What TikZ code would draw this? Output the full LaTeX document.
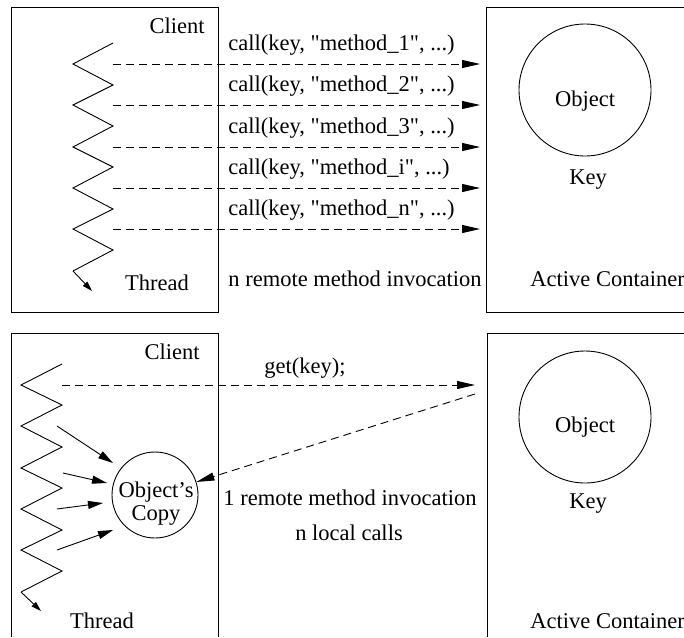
\documentclass[tikz,border=0pt]{standalone}
\usepackage{fontspec}
\setmainfont{Liberation Serif}[Ligatures=TeXOff]
\usetikzlibrary{arrows.meta}
\begin{document}
\begin{tikzpicture}[x=1pt,y=-1pt,line width=0.9pt,
  lbl/.style={font=\fontsize{22.5}{23}\selectfont,inner sep=0pt},
  dsh/.style={dash pattern=on 8pt off 5pt},
  bigtip/.style={-{Triangle[length=18pt,width=8pt]}},
  midtip/.style={-{Triangle[length=15pt,width=8pt]}},
  smalltip/.style={-{Triangle[length=10pt,width=6pt]}},
  ring/.style={circle,draw,inner sep=0pt}]
\useasboundingbox (0,0) rectangle (684,637);

% ---------- top panel ----------
\draw (11,7) rectangle (218,312);
\draw (684,7) -- (486,7) -- (486,312) -- (684,312);
\node[lbl,anchor=base] (client1) at (177,33) {Client};
\node[lbl,anchor=base] (thread1) at (157,290) {Thread};
\node[ring,minimum size=132pt] (obj1) at (585,90) {};
\node[lbl,anchor=base] (objt1) at (585,106) {Object};
\node[lbl,anchor=base] (key1) at (588,184) {Key};
\node[lbl,anchor=base west] (ac1) at (530,286) {Active Container};
\node[lbl,anchor=base west] (nrem) at (228,286) {n remote method invocation};

\draw (113,43) -- (73,64) -- (113,85) -- (73,105) -- (113,126) -- (73,147)
  -- (113,167) -- (73,188) -- (113,209) -- (73,229) -- (113,250) -- (73,271) coordinate (z1end);
\coordinate (z1tip) at (92,291);
\draw[smalltip] (z1end) -- (z1tip);

\foreach \i/\y/\m in {1/64/1,2/105/2,3/147/3,4/188/i,5/229/n}{
  \coordinate (s\i) at (113,\y);
  \coordinate (e\i) at (480,\y);
  \draw[dsh,bigtip] (s\i) -- (e\i);
  \node[lbl,anchor=base west] (call\i) at (228,\y-13.5) {call(key, "method\_\m", ...)};
}

% ---------- bottom panel ----------
\draw (11,637) -- (11,333) -- (218,333) -- (218,637);
\draw (684,333) -- (487,333) -- (487,637);
\node[lbl,anchor=base] (client2) at (172,359) {Client};
\node[lbl,anchor=base] (thread2) at (102,628) {Thread};
\node[ring,minimum size=132pt] (obj2) at (585,417) {};
\node[lbl,anchor=base] (objt2) at (585,432) {Object};
\node[lbl,anchor=base] (key2) at (588,508) {Key};
\node[lbl,anchor=base west] (ac2) at (530,628) {Active Container};
\node[lbl,anchor=base] (get) at (305,373) {get(key);};
\node[lbl,anchor=base west] (onerem) at (223,505) {1 remote method invocation};
\node[lbl,anchor=base] (nloc) at (349,540) {n local calls};

\node[ring,minimum size=86pt] (copy) at (155,495) {};
\node[lbl,anchor=base,align=center] (copyt) at (156,520) {Object’s\\Copy};

\draw (62,364) -- (21,385) -- (62,405) -- (21,426) -- (62,447) -- (21,468)
  -- (62,488) -- (21,509) -- (62,530) -- (21,550) -- (62,571) -- (21,592) coordinate (z2end);
\coordinate (z2tip) at (41,611);
\draw[smalltip] (z2end) -- (z2tip);

\coordinate (gs) at (62,385);
\coordinate (ge) at (475,385);
\draw[dsh,bigtip] (gs) -- (ge);
\coordinate (rs) at (475,394);
\draw[dsh,bigtip] (rs) -- (copy);

\coordinate (a1) at (57,426);  \coordinate (b1) at (113,463);
\coordinate (a2) at (63,473);  \coordinate (b2) at (107,483);
\coordinate (a3) at (57,509);  \coordinate (b3) at (103,503);
\coordinate (a4) at (57,550);  \coordinate (b4) at (113,530);
\foreach \i in {1,2,3,4}{ \draw[midtip] (a\i) -- (b\i); }
\end{tikzpicture}
\end{document}
